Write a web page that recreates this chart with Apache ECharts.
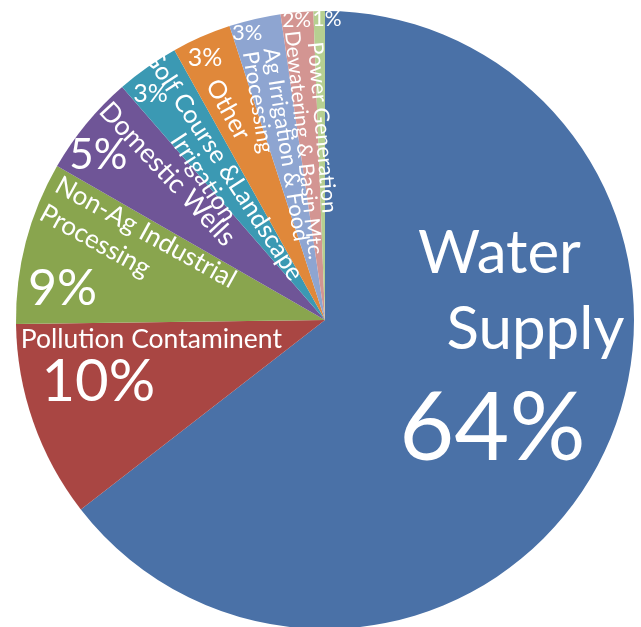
<!DOCTYPE html>
<html>
<head>
<meta charset="utf-8">
<script src="https://cdn.jsdelivr.net/npm/echarts@6/dist/echarts.min.js"></script>
<style>
  html, body { margin: 0; padding: 0; background: #fff; }
  #pie { width: 641px; height: 627px; }
</style>
</head>
<body>
<div id="pie"></div>
<script>
// slice shares (clockwise from 12 o'clock)
var categories = [
  'Water Supply', 'Pollution Contaminent', 'Non-Ag Industrial\nProcessing',
  'Domestic Wells', 'Golf Course &Landscape\nIrrigation', 'Other',
  'Ag Irrigation & Food\nProcessing', 'Dewatering & Basin Mtc.', 'Power Generation'
]
var shares = [64.5, 10.3, 8.5, 5.3, 3.3, 3.1, 2.7, 1.7, 0.6]
var pctLabels = ['64%', '10%', '9%', '5%', '3%', '3%', '3%', '2%', '1%']
var colors = ['#4A71A7', '#A94643', '#89A54E', '#6F5597', '#3B99B3',
  '#E0883A', '#8EA5D1', '#D39592', '#B6CF91']

// label placement: screen offset from the slice's inside anchor, rotation, alignment
var nameStyle = [
  {dx: 51, dy: -98, rotate: 0, align: 'center', size: 60, lh: 76},
  {dx: -25, dy: -32, rotate: 0, align: 'center', size: 26.5, lh: 30},
  {dx: -123, dy: -83, rotate: -29, align: 'left', size: 26, lh: 32},
  {dx: -36, dy: -46, rotate: -47, align: 'center', size: 27, lh: 30},
  {dx: -21, dy: -20, rotate: -57, align: 'center', size: 25, lh: 24},
  {dx: -34, dy: -66, rotate: -61, align: 'center', size: 25, lh: 28},
  {dx: -29, dy: -117, rotate: -81, align: 'left', size: 22, lh: 21},
  {dx: -7, dy: -18, rotate: -84, align: 'center', size: 21, lh: 22},
  {dx: 0, dy: -35, rotate: -85, align: 'center', size: 21.5, lh: 22}
]
var pctStyle = [
  {dx: 26, dy: 40, size: 95},
  {dx: -78, dy: 10, size: 58},
  {dx: -110, dy: 9, size: 50},
  {dx: -105, dy: -65, size: 42},
  {dx: -84, dy: -97, size: 25},
  {dx: -57, dy: -118, size: 25},
  {dx: -42, dy: -134, size: 22},
  {dx: -14, dy: -143, size: 21},
  {dx: 5, dy: -143, size: 21}
]

var font = 'Lato, "Open Sans", sans-serif'

// labelLayout offsets act in the label's rotated frame, so turn screen offsets into it
function toLocal (st) {
  var r = (st.rotate || 0) * Math.PI / 180
  return {
    dx: st.dx * Math.cos(r) - st.dy * Math.sin(r),
    dy: st.dx * Math.sin(r) + st.dy * Math.cos(r)
  }
}

var nameData = categories.map(function (name, i) {
  var st = nameStyle[i]
  var item = {
    name: name,
    value: shares[i],
    itemStyle: {color: colors[i]},
    label: {fontSize: st.size, lineHeight: st.lh}
  }
  if (i === 0) {
    item.label.formatter = '{w|Water}\n{s|Supply}'
    item.label.rich = {
      w: {fontSize: st.size, lineHeight: st.lh, color: '#fff', fontFamily: font, padding: [0, 36, 0, 0]},
      s: {fontSize: st.size, lineHeight: st.lh, color: '#fff', fontFamily: font, padding: [0, 0, 0, 36]}
    }
  }
  return item
})

var pctData = categories.map(function (name, i) {
  return {
    name: name,
    value: shares[i],
    label: {fontSize: pctStyle[i].size, formatter: pctLabels[i]}
  }
})

var option = {
  backgroundColor: '#ffffff',
  animation: false,
  series: [
    {
      type: 'pie',
      center: [325, 320],
      radius: 309,
      startAngle: 90,
      clockwise: true,
      emphasis: {disabled: true},
      itemStyle: {borderWidth: 0},
      label: {
        show: true,
        position: 'inside',
        color: '#fff',
        fontFamily: font,
        formatter: '{b}'
      },
      labelLine: {show: false},
      labelLayout: function (p) {
        var st = nameStyle[p.dataIndex]
        var off = toLocal(st)
        return {dx: off.dx, dy: off.dy, rotate: st.rotate, align: st.align, verticalAlign: 'middle'}
      },
      data: nameData
    },
    {
      type: 'pie',
      center: [325, 320],
      radius: 309,
      startAngle: 90,
      clockwise: true,
      silent: true,
      emphasis: {disabled: true},
      itemStyle: {color: 'rgba(0,0,0,0)', borderWidth: 0},
      label: {
        show: true,
        position: 'inside',
        color: '#fff',
        fontFamily: font
      },
      labelLine: {show: false},
      labelLayout: function (p) {
        var st = pctStyle[p.dataIndex]
        return {dx: st.dx, dy: st.dy, rotate: 0, align: 'center', verticalAlign: 'middle'}
      },
      data: pctData
    }
  ]
}

var myChart = echarts.init(document.getElementById('pie'))
myChart.setOption(option)
</script>
</body>
</html>
